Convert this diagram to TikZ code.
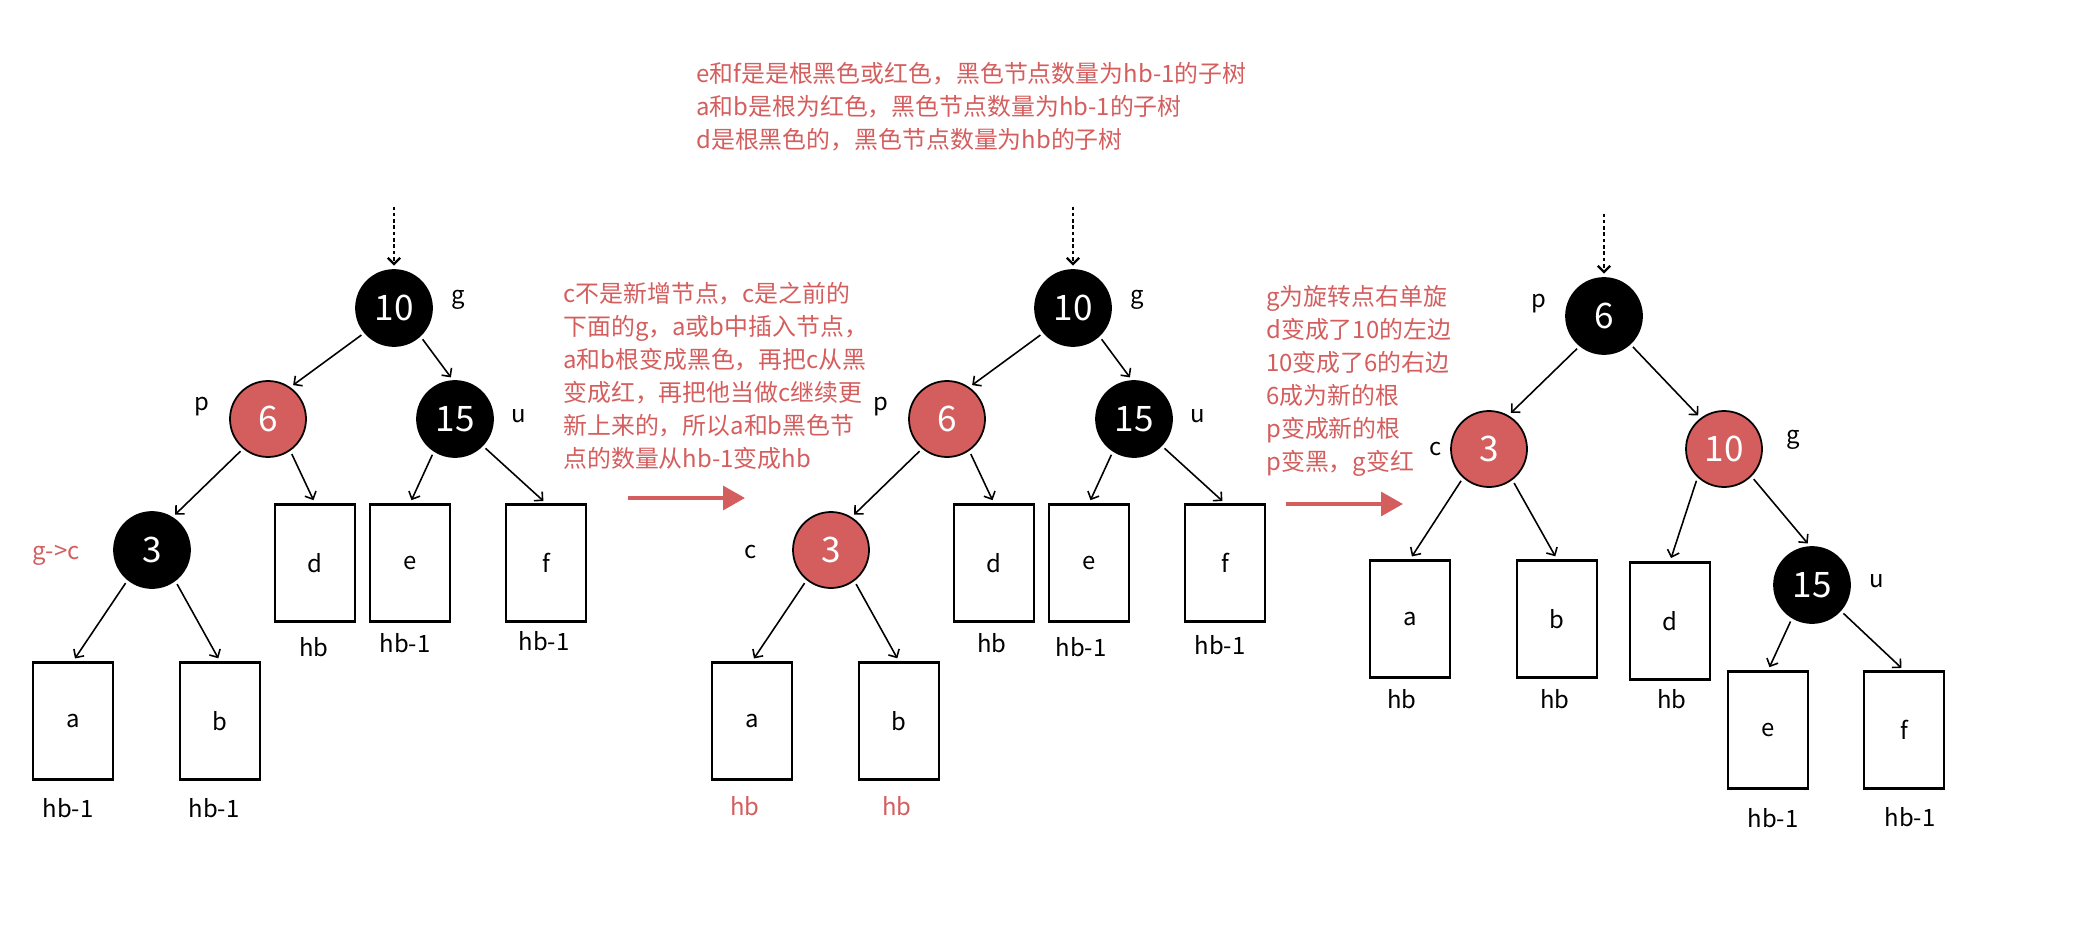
\documentclass[tikz,border=0pt]{standalone}
\usepackage{fontspec}
\setmainfont{Noto Sans CJK SC}
\usetikzlibrary{arrows.meta}
\definecolor{rbred}{RGB}{212,94,94}

\begin{document}
\begin{tikzpicture}[x=0.02cm, y=-0.02cm,
    blacknode/.style={circle, draw=black, fill=black, text=white, minimum size=1.52cm, inner sep=0pt, line width=1pt, font=\fontsize{20}{20}\selectfont},
    rednode/.style={blacknode, fill=rbred},
    subtree/.style={draw, line width=1.3pt, minimum width=1.6cm, minimum height=2.34cm, inner sep=0pt, font=\fontsize{13.6}{16}\selectfont},
    lbl/.style={font=\fontsize{13.6}{16}\selectfont},
    remark/.style={text=rbred, align=left, anchor=north west, inner sep=0pt, font=\fontsize{13.6}{18.8}\selectfont},
    link/.style={-{Straight Barb[length=3.5pt,width=7pt]}, line width=0.9pt, shorten >=2pt, shorten <=2pt},
    dotlink/.style={link, line width=1.3pt, dash pattern=on 2pt off 1.6pt},
    redarrow/.style={-{Triangle[length=12.5pt,width=13.5pt]}, draw=rbred, line width=2.3pt}]
    \useasboundingbox (0,0) rectangle (2078,929);

    % notes
    \node[remark] (top) at (696,62) {e和f是是根黑色或红色，黑色节点数量为hb-1的子树\\a和b是根为红色，黑色节点数量为hb-1的子树\\d是根黑色的，黑色节点数量为hb的子树};
    \node[remark] (step1) at (563,282) {c不是新增节点，c是之前的\\下面的g，a或b中插入节点，\\a和b根变成黑色，再把c从黑\\变成红，再把他当做c继续更\\新上来的，所以a和b黑色节\\点的数量从hb-1变成hb};
    \node[remark] (step2) at (1266,285) {g为旋转点右单旋\\d变成了10的左边\\10变成了6的右边\\6成为新的根\\p变成新的根\\p变黑，g变红};

    % first tree
    \coordinate (in1) at (394,203);
    \node[blacknode] (g1) at (394,308) {10};
    \node[rednode] (p1) at (268,419) {6};
    \node[blacknode] (u1) at (455,419) {15};
    \node[blacknode] (c1) at (152,550) {3};
    \node[subtree] (a1) at (73,721) {a};
    \node[subtree] (b1) at (220,721) {b};
    \node[subtree] (d1) at (315,563) {d};
    \node[subtree] (e1) at (410,563) {e};
    \node[subtree] (f1) at (546,563) {f};
    \node[lbl] at (458,300) {g};
    \node[lbl] at (202,407) {p};
    \node[lbl] at (519,416) {u};
    \node[lbl, text=rbred] at (56,555) {g->c};
    \node[lbl] at (68,808) {hb-1};
    \node[lbl] at (214,808) {hb-1};
    \node[lbl] at (314,647) {hb};
    \node[lbl] at (405,643) {hb-1};
    \node[lbl] at (544,641) {hb-1};
    \draw[dotlink] (in1) -- (g1);
    \draw[link] (g1.220) -- (p1.55);
    \draw[link] (g1.-47) -- (u1.93);
    \draw[link] (p1.-130) -- (c1.58);
    \draw[link] (p1.-55) -- (d1.north);
    \draw[link] (u1.-123) -- (e1.north);
    \draw[link] (u1.-44) -- (f1.north);
    \draw[link] (c1.-129) -- (a1.north);
    \draw[link] (c1.-53) -- (b1.north);

    \coordinate (s1) at (628,498);
    \coordinate (t1) at (745,498);
    \draw[redarrow] (s1) -- (t1);

    % second tree
    \coordinate (in2) at (1073,203);
    \node[blacknode] (g2) at (1073,308) {10};
    \node[rednode] (p2) at (947,419) {6};
    \node[blacknode] (u2) at (1134,419) {15};
    \node[rednode] (c2) at (831,550) {3};
    \node[subtree] (a2) at (752,721) {a};
    \node[subtree] (b2) at (899,721) {b};
    \node[subtree] (d2) at (994,563) {d};
    \node[subtree] (e2) at (1089,563) {e};
    \node[subtree] (f2) at (1225,563) {f};
    \node[lbl] at (1137,300) {g};
    \node[lbl] at (881,407) {p};
    \node[lbl] at (1198,416) {u};
    \node[lbl] at (751,552) {c};
    \node[lbl, text=rbred] at (745,806) {hb};
    \node[lbl, text=rbred] at (897,806) {hb};
    \node[lbl] at (992,643) {hb};
    \node[lbl] at (1081,647) {hb-1};
    \node[lbl] at (1220,645) {hb-1};
    \draw[dotlink] (in2) -- (g2);
    \draw[link] (g2.220) -- (p2.55);
    \draw[link] (g2.-47) -- (u2.93);
    \draw[link] (p2.-130) -- (c2.58);
    \draw[link] (p2.-55) -- (d2.north);
    \draw[link] (u2.-123) -- (e2.north);
    \draw[link] (u2.-44) -- (f2.north);
    \draw[link] (c2.-129) -- (a2.north);
    \draw[link] (c2.-53) -- (b2.north);

    \coordinate (s2) at (1286,504);
    \coordinate (t2) at (1403,504);
    \draw[redarrow] (s2) -- (t2);

    % third tree
    \coordinate (in3) at (1604,210);
    \node[blacknode] (p3) at (1604,316) {6};
    \node[rednode] (c3) at (1489,449) {3};
    \node[rednode] (g3) at (1724,449) {10};
    \node[blacknode] (u3) at (1812,585) {15};
    \node[subtree] (a3) at (1410,619) {a};
    \node[subtree] (b3) at (1557,619) {b};
    \node[subtree] (d3) at (1670,621) {d};
    \node[subtree] (e3) at (1768,730) {e};
    \node[subtree] (f3) at (1904,730) {f};
    \node[lbl] at (1539,304) {p};
    \node[lbl] at (1436,449) {c};
    \node[lbl] at (1793,440) {g};
    \node[lbl] at (1877,581) {u};
    \node[lbl] at (1402,699) {hb};
    \node[lbl] at (1555,699) {hb};
    \node[lbl] at (1672,699) {hb};
    \node[lbl] at (1773,818) {hb-1};
    \node[lbl] at (1910,817) {hb-1};
    \draw[dotlink] (in3) -- (p3);
    \draw[link] (p3.-129) -- (c3.60);
    \draw[link] (p3.-47) -- (g3.127);
    \draw[link] (c3.-132) -- (a3.north);
    \draw[link] (c3.-53) -- (b3.north);
    \draw[link] (g3.-133) -- (d3.north);
    \draw[link] (g3.-45) -- (u3.93);
    \draw[link] (u3.-121) -- (e3.north);
    \draw[link] (u3.-42) -- (f3.north);
\end{tikzpicture}
\end{document}
